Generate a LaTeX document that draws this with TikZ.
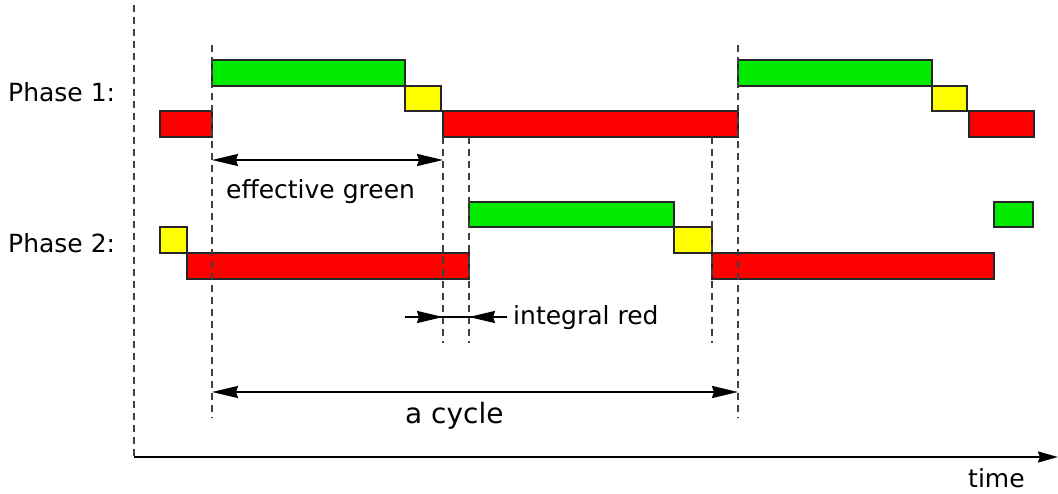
\documentclass[tikz,border=0pt]{standalone}
\usepackage{fontspec}
\setmainfont{DejaVu Sans}
\usetikzlibrary{arrows.meta}

\definecolor{sigred}{RGB}{255,0,0}
\definecolor{sigyellow}{RGB}{255,255,0}
\definecolor{siggreen}{RGB}{0,235,0}

\tikzset{
    bar/.style={draw=black!85, line width=1.4pt},
    redbar/.style={bar, fill=sigred},
    yellowbar/.style={bar, fill=sigyellow},
    greenbar/.style={bar, fill=siggreen},
    marker/.style={draw=black!75, line width=1.4pt, dash pattern=on 7pt off 5pt},
    tip/.tip={Stealth[length=26pt, width=12pt, inset=2pt]},
    span/.style={line width=2pt, tip-tip},
    lbl/.style={inner sep=0pt, anchor=base west, font=\fontsize{25}{30}\selectfont},
}

\begin{document}
\begin{tikzpicture}[x=1pt, y=-1pt]
    \useasboundingbox (0,0) rectangle (1058,494);

    \node[lbl] (phase1) at (8,102) {Phase 1:};
    \node[lbl] (phase2) at (8,253) {Phase 2:};

    % phase 1
    \draw[redbar] (160,111) rectangle (212,137);
    \draw[greenbar] (212,60) rectangle (405,86);
    \draw[yellowbar] (405,86) rectangle (441,111);
    \draw[redbar] (443,111) rectangle (738,137);
    \draw[greenbar] (738,60) rectangle (932,86);
    \draw[yellowbar] (932,86) rectangle (967,111);
    \draw[redbar] (969,111) rectangle (1034,137);

    % phase 2
    \draw[yellowbar] (160,227) rectangle (187,253);
    \draw[redbar] (187,253) rectangle (469,279);
    \draw[greenbar] (469,202) rectangle (674,227);
    \draw[yellowbar] (674,227) rectangle (712,253);
    \draw[redbar] (712,253) rectangle (994,279);
    \draw[greenbar] (994,202) rectangle (1033,227);

    \foreach \x/\ya/\yb in {134/5/457, 212/45/418, 443/137/343, 469/137/343, 712/137/343, 738/45/418}
        \draw[marker] (\x,\ya) -- (\x,\yb);

    % time axis
    \coordinate (origin) at (134,457);
    \coordinate (tend) at (1058,457);
    \draw[line width=2.4pt, -{Stealth[length=20pt, width=11pt, inset=2pt]}] (origin) -- (tend);
    \node[lbl] (time) at (968,487) {time};

    % effective green
    \coordinate (eg1) at (212,160);
    \coordinate (eg2) at (443,160);
    \draw[span] (eg1) -- (eg2);
    \node[lbl] (eglabel) at (226,199) {effective green};

    % integral red
    \coordinate (ir0) at (405,317);
    \coordinate (ir1) at (443,317);
    \coordinate (ir2) at (469,317);
    \coordinate (ir3) at (507,317);
    \draw[line width=2pt] (ir0) -- (ir3);
    \draw[line width=2pt, -tip] (ir0) -- (ir1);
    \draw[line width=2pt, -tip] (ir3) -- (ir2);
    \node[lbl] (irlabel) at (513,325) {integral red};

    % cycle
    \coordinate (cy1) at (212,392);
    \coordinate (cy2) at (738,392);
    \draw[span] (cy1) -- (cy2);
    \node[lbl, font=\fontsize{28}{34}\selectfont] (cylabel) at (405,423) {a cycle};
\end{tikzpicture}
\end{document}
